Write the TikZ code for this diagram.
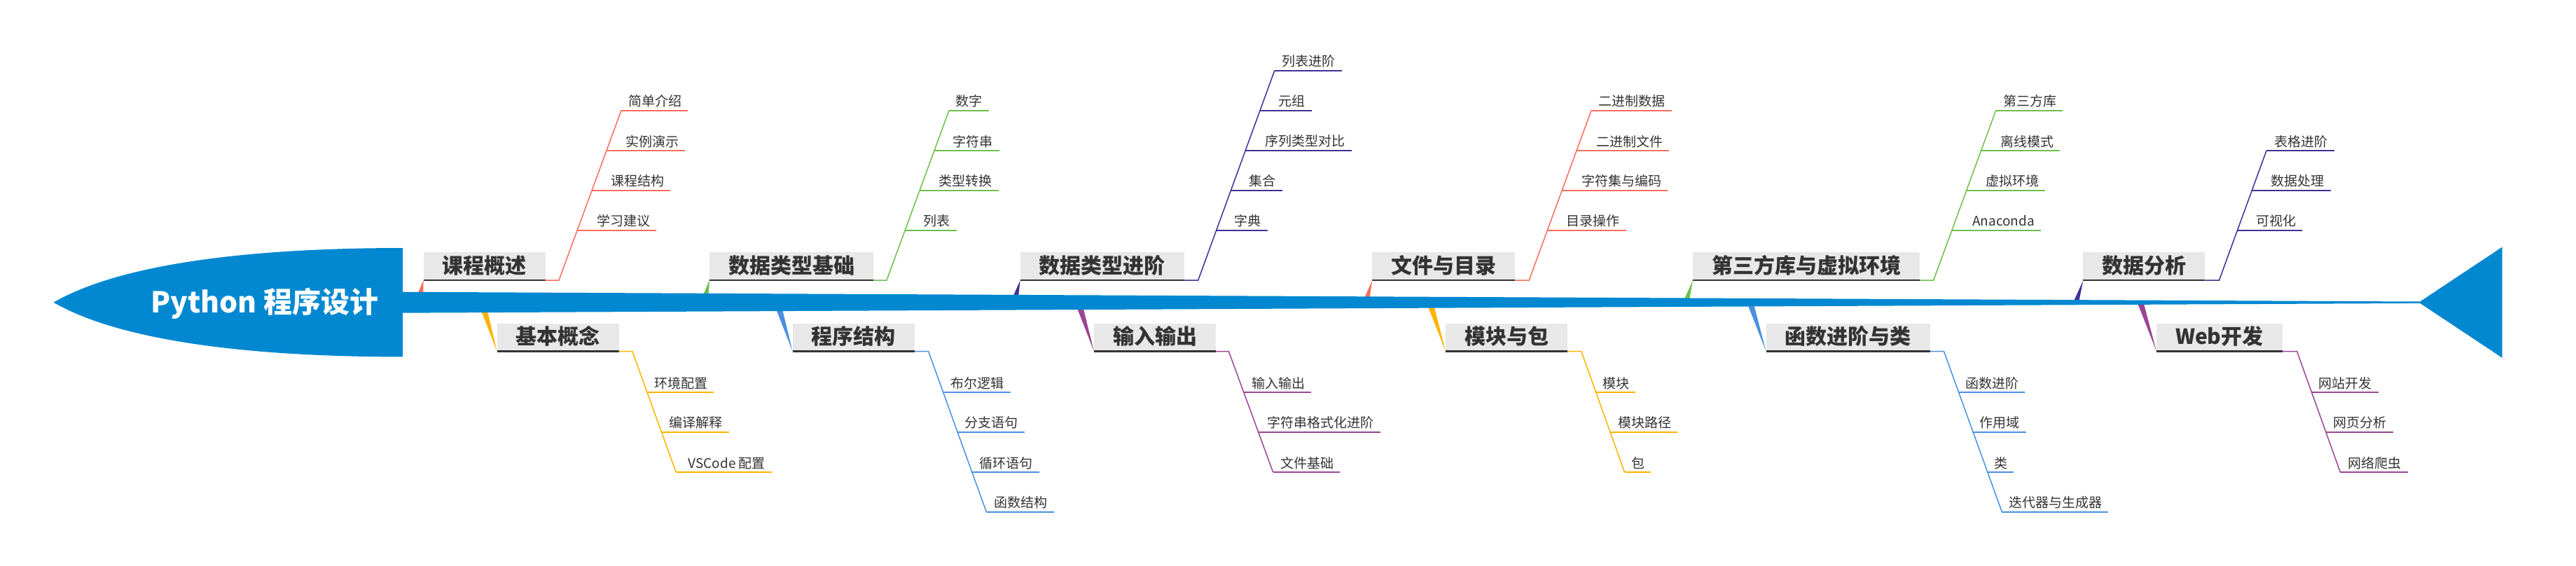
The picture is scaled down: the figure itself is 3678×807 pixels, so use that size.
\documentclass[tikz,border=0pt]{standalone}
\usepackage{fontspec}
\setmainfont{Noto Sans CJK SC}
\usetikzlibrary{calc}
\definecolor{spine}{HTML}{0288D1}
\definecolor{cA}{HTML}{F66E5C}
\definecolor{cB}{HTML}{FFB300}
\definecolor{cC}{HTML}{6CC04A}
\definecolor{cD}{HTML}{4A90E2}
\definecolor{cE}{HTML}{3F3196}
\definecolor{cF}{HTML}{9A4594}
\definecolor{boxg}{HTML}{E8E8E8}
\definecolor{txt}{HTML}{333333}
\newcommand\subfnt{\fontsize{19}{19}\selectfont}
\newcommand\boxfnt{\fontsize{30}{30}\selectfont\bfseries}
\newcommand\headfnt{\fontsize{41}{41}\selectfont\bfseries}
\tikzset{
  mainbox/.style={fill=boxg, font=\boxfnt, text=txt, inner xsep=27pt, inner ysep=0pt,
    minimum height=40pt, text height=25pt, text depth=5pt, anchor=south west, outer sep=0pt},
  subnode/.style={font=\subfnt, text=txt, inner xsep=9pt, inner ysep=6pt,
    text height=15pt, text depth=0pt, anchor=south east, outer sep=0pt},
  headtxt/.style={font=\headfnt, text=white, inner sep=0pt},
  diagline/.style={line width=1.5pt},
  subline/.style={line width=2pt},
  barline/.style={line width=2.5pt, draw=txt},
}
% name, branch, colour, fraction, x end, y, text
\newcommand\leaf[7]{%
  \node[subnode] (#1) at (#5,#6) {#7};
  \coordinate (#1d) at ($(#2s)!#4!(#2e)$);
  \draw[subline,#3] (#1d |- #1.south east) -- (#1.south east);}
% name, colour, x, y, text, wedge base y, wedge dx (bottom) 
\newcommand\branch[5]{%
  \node[mainbox] (#1) at (#3,#4) {#5};}
\begin{document}
\begin{tikzpicture}[x=1pt,y=-1pt]
\useasboundingbox (0,0) rectangle (3678,807);
% ---------- main boxes ----------
\node[mainbox] (b1) at (604.6,400) {课程概述};
\node[mainbox] (b2) at (709.6,501.7) {基本概念};
\node[mainbox] (b3) at (1013,400) {数据类型基础};
\node[mainbox] (b4) at (1131.6,501.7) {程序结构};
\node[mainbox] (b5) at (1456.6,400) {数据类型进阶};
\node[mainbox] (b6) at (1562,501.7) {输入输出};
\node[mainbox] (b7) at (1959.3,400) {文件与目录};
\node[mainbox] (b8) at (2064,501.7) {模块与包};
\node[mainbox] (b9) at (2417,400) {第三方库与虚拟环境};
\node[mainbox] (b10) at (2521.5,501.7) {函数进阶与类};
\node[mainbox] (b11) at (2974.4,400) {数据分析};
\node[mainbox] (b12) at (3079,501.7) {Web开发};
\foreach \b in {b1,b2,b3,b4,b5,b6,b7,b8,b9,b10,b11,b12}
  \draw[barline] (\b.south west) -- (\b.south east);
% ---------- wedges from spine ----------
\coordinate (w1a) at (596.2,419.8);  \coordinate (w1b) at (604.2,419.8);
\coordinate (w2a) at (686.8,443.1);  \coordinate (w2b) at (695.8,443.1);
\coordinate (w3a) at (1003.5,421.9); \coordinate (w3b) at (1011.5,421.9);
\coordinate (w4a) at (1107.9,440.9); \coordinate (w4b) at (1116.9,440.9);
\coordinate (w5a) at (1446,424.2);   \coordinate (w5b) at (1454,424.2);
\coordinate (w6a) at (1537.4,438.7); \coordinate (w6b) at (1546.4,438.7);
\coordinate (w7a) at (1947.3,426.9); \coordinate (w7b) at (1955.3,426.9);
\coordinate (w8a) at (2038.3,436.1); \coordinate (w8b) at (2047.3,436.1);
\coordinate (w9a) at (2403.9,429.2); \coordinate (w9b) at (2411.9,429.2);
\coordinate (w10a) at (2494.9,433.7); \coordinate (w10b) at (2503.9,433.7);
\coordinate (w11a) at (2959.9,432.1); \coordinate (w11b) at (2967.9,432.1);
\coordinate (w12a) at (3051.2,430.8); \coordinate (w12b) at (3060.2,430.8);
\foreach \i/\c in {1/cA,2/cB,3/cC,4/cD,5/cE,6/cF,7/cA,8/cB,9/cC,10/cD,11/cE,12/cF}
  \fill[\c] (w\i a) -- (b\i.south west) -- (w\i b) -- cycle;
% ---------- spine, head, tail ----------
\fill[spine] (570,416.7) -- (3455,430.5) -- (3455,432.9) -- (570,446.7) -- cycle;
\fill[spine] (76.5,431.7) .. controls (180,372) and (380,354) .. (575,354)
  -- (575,509.4) .. controls (380,509.4) and (180,491.4) .. (76.5,431.7) -- cycle;
\fill[spine] (3453.5,431.7) -- (3572.5,352.7) -- (3572.5,510.7) -- cycle;
\node[headtxt] (title) at (378,433) {Python 程序设计};
% ---------- diagonals ----------
\coordinate (d1s) at (798,400);     \coordinate (d1e) at (887,157.7);
\coordinate (d2s) at (902.9,501.7); \coordinate (d2e) at (965.2,674);
\coordinate (d3s) at (1266,400);    \coordinate (d3e) at (1355,157.7);
\coordinate (d4s) at (1325.6,501.7); \coordinate (d4e) at (1408.3,730.7);
\coordinate (d5s) at (1710.7,400);  \coordinate (d5e) at (1819.8,100.7);
\coordinate (d6s) at (1754.4,501.7); \coordinate (d6e) at (1817.6,674);
\coordinate (d7s) at (2183.2,400);  \coordinate (d7e) at (2272,157.7);
\coordinate (d8s) at (2257.8,501.7); \coordinate (d8e) at (2319.5,674);
\coordinate (d9s) at (2760.7,400);  \coordinate (d9e) at (2849.6,157.7);
\coordinate (d10s) at (2775.5,501.7); \coordinate (d10e) at (2858.3,730.7);
\coordinate (d11s) at (3168.5,400); \coordinate (d11e) at (3236,215);
\coordinate (d12s) at (3279.6,501.7); \coordinate (d12e) at (3341.4,674);
\foreach \i/\c in {1/cA,2/cB,3/cC,4/cD,5/cE,6/cF,7/cA,8/cB,9/cC,10/cD,11/cE,12/cF}
  \draw[diagline,\c] (b\i.south east) -- (d\i s) -- (d\i e);
% ---------- leaves ----------
\leaf{s1a}{d1}{cA}{1}{982}{157.7}{简单介绍}
\leaf{s1b}{d1}{cA}{.7635}{978}{215}{实例演示}
\leaf{s1c}{d1}{cA}{.5295}{957}{271.7}{课程结构}
\leaf{s1d}{d1}{cA}{.2943}{937}{328.7}{学习建议}
\leaf{s2a}{d2}{cB}{.3384}{1019.1}{560}{环境配置}
\leaf{s2b}{d2}{cB}{.6674}{1040.6}{616.7}{编译解释}
\leaf{s2c}{d2}{cB}{1}{1101.8}{674}{VSCode 配置}
\leaf{s3a}{d3}{cC}{1}{1411.7}{157.7}{数字}
\leaf{s3b}{d3}{cC}{.7635}{1426.7}{215}{字符串}
\leaf{s3c}{d3}{cC}{.5295}{1425.7}{271.7}{类型转换}
\leaf{s3d}{d3}{cC}{.2943}{1365.7}{328.7}{列表}
\leaf{s4a}{d4}{cD}{.2546}{1442.7}{560}{布尔逻辑}
\leaf{s4b}{d4}{cD}{.5022}{1462.8}{616.7}{分支语句}
\leaf{s4c}{d4}{cD}{.7524}{1483.5}{674}{循环语句}
\leaf{s4d}{d4}{cD}{1}{1504.7}{730.7}{函数结构}
\leaf{s5a}{d5}{cE}{1}{1915.9}{100.7}{列表进阶}
\leaf{s5b}{d5}{cE}{.8096}{1872.6}{157.7}{元组}
\leaf{s5c}{d5}{cE}{.6191}{1929.7}{214.7}{序列类型对比}
\leaf{s5d}{d5}{cE}{.4287}{1830.9}{271.7}{集合}
\leaf{s5e}{d5}{cE}{.2382}{1809.5}{328.7}{字典}
\leaf{s6a}{d6}{cF}{.3384}{1872}{560}{输入输出}
\leaf{s6b}{d6}{cF}{.6674}{1970.9}{616.7}{字符串格式化进阶}
\leaf{s6c}{d6}{cF}{1}{1913.4}{674}{文件基础}
\leaf{s7a}{d7}{cA}{1}{2386.8}{157.7}{二进制数据}
\leaf{s7b}{d7}{cA}{.7635}{2383}{215}{二进制文件}
\leaf{s7c}{d7}{cA}{.5295}{2381.4}{271.7}{字符集与编码}
\leaf{s7d}{d7}{cA}{.2943}{2321.7}{328.7}{目录操作}
\leaf{s8a}{d8}{cB}{.3384}{2335}{560}{模块}
\leaf{s8b}{d8}{cB}{.6674}{2395.3}{616.7}{模块路径}
\leaf{s8c}{d8}{cB}{1}{2357.4}{674}{包}
\leaf{s9a}{d9}{cC}{1}{2945}{157.7}{第三方库}
\leaf{s9b}{d9}{cC}{.7635}{2941}{215}{离线模式}
\leaf{s9c}{d9}{cC}{.5295}{2920}{271.7}{虚拟环境}
\leaf{s9d}{d9}{cC}{.2943}{2913.8}{328.7}{Anaconda}
\leaf{s10a}{d10}{cD}{.2546}{2891.2}{560}{函数进阶}
\leaf{s10b}{d10}{cD}{.5022}{2892.6}{616.7}{作用域}
\leaf{s10c}{d10}{cD}{.7524}{2875}{674}{类}
\leaf{s10d}{d10}{cD}{1}{3010}{730.7}{迭代器与生成器}
\leaf{s11a}{d11}{cE}{1}{3332.8}{215}{表格进阶}
\leaf{s11b}{d11}{cE}{.6935}{3327.8}{271.7}{数据处理}
\leaf{s11c}{d11}{cE}{.3854}{3287.1}{328.7}{可视化}
\leaf{s12a}{d12}{cF}{.3384}{3395.7}{560}{网站开发}
\leaf{s12b}{d12}{cF}{.6674}{3416.6}{616.7}{网页分析}
\leaf{s12c}{d12}{cF}{1}{3437.5}{674}{网络爬虫}
\end{tikzpicture}
\end{document}
